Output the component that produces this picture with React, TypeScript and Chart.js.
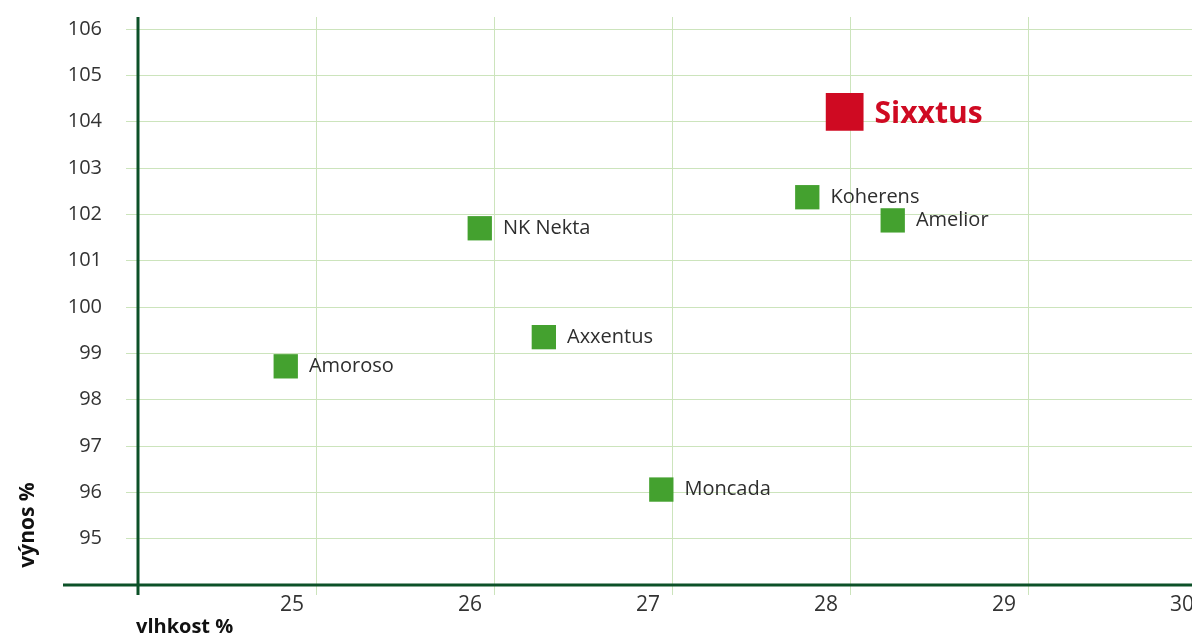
import React, { useEffect, useRef } from "react";
import { Chart, registerables } from "chart.js";

Chart.register(...registerables);

// ---- data ----
const varieties = ["Sixxtus", "Koherens", "Amelior", "NK Nekta", "Axxentus", "Amoroso", "Moncada"];
const moisture = [27.97, 27.76, 28.24, 25.92, 26.28, 24.83, 26.94];
const yieldPct = [104.21, 102.37, 101.87, 101.7, 99.35, 98.72, 96.06];
const highlighted = "Sixxtus";
const xTicks = [25, 26, 27, 28, 29, 30];
const yTicks = [95, 96, 97, 98, 99, 100, 101, 102, 103, 104, 105, 106];
const xTitle = "vlhkost %";
const yTitle = "výnos %";

// ---- style ----
const FONT = "'Open Sans', 'Noto Sans', sans-serif";
const GREEN = "#44a12f";
const RED = "#cf0a22";
const AXIS = "#0c5128";
const GRID = "#cce4bc";
const TEXT = "#2e2e2e";
const R_SMALL = 17.2;
const R_BIG = 26.7;

const W = 1206;
const H = 635;

export default function App() {
  const ref = useRef<HTMLCanvasElement | null>(null);

  useEffect(() => {
    if (!ref.current) return;

    const axisLines = {
      id: "axisLines",
      beforeDatasetsDraw(chart: any) {
        const { ctx, chartArea } = chart;
        ctx.save();
        ctx.strokeStyle = AXIS;
        ctx.lineWidth = 3;
        ctx.beginPath();
        ctx.moveTo(chartArea.left, chartArea.top);
        ctx.lineTo(chartArea.left, chartArea.bottom + 10);
        ctx.moveTo(63, chartArea.bottom);
        ctx.lineTo(chart.width, chartArea.bottom);
        ctx.stroke();
        ctx.restore();
      },
    };

    const pointLabels = {
      id: "pointLabels",
      afterDatasetsDraw(chart: any) {
        const { ctx } = chart;
        const meta = chart.getDatasetMeta(0);
        ctx.save();
        meta.data.forEach((el: any, i: number) => {
          const name = varieties[i];
          const hl = name === highlighted;
          const r = hl ? R_BIG : R_SMALL;
          const half = r * Math.SQRT1_2;
          ctx.font = hl ? `bold 30px ${FONT}` : `20px ${FONT}`;
          ctx.fillStyle = hl ? RED : TEXT;
          ctx.textBaseline = "middle";
          ctx.textAlign = "left";
          ctx.fillText(name, el.x + half + 11, el.y + (hl ? 2 : 0));
        });
        ctx.restore();
      },
    };

    const titles = {
      id: "titles",
      afterDraw(chart: any) {
        const { ctx, chartArea } = chart;
        ctx.save();
        ctx.fillStyle = "#111";
        ctx.font = `bold 20px ${FONT}`;
        ctx.textAlign = "left";
        ctx.textBaseline = "alphabetic";
        ctx.fillText(xTitle, chartArea.left - 2, 633);
        ctx.translate(34, 525);
        ctx.rotate(-Math.PI / 2);
        ctx.font = `bold 21px ${FONT}`;
        ctx.textAlign = "center";
        ctx.fillText(yTitle, 0, 0);
        ctx.restore();
      },
    };

    const chart = new Chart(ref.current, {
      type: "scatter",
      data: {
        datasets: [
          {
            data: moisture.map((x, i) => ({ x, y: yieldPct[i] })),
            pointStyle: "rect",
            pointRadius: varieties.map((n) => (n === highlighted ? R_BIG : R_SMALL)),
            pointHoverRadius: varieties.map((n) => (n === highlighted ? R_BIG : R_SMALL)),
            pointBackgroundColor: varieties.map((n) => (n === highlighted ? RED : GREEN)),
            pointBorderWidth: 0,
            borderWidth: 0,
          },
        ],
      },
      options: {
        responsive: false,
        animation: false,
        events: [],
        clip: false,
        layout: { autoPadding: false, padding: { left: 0, right: 0, top: 17, bottom: 0 } },
        plugins: {
          legend: { display: false },
          tooltip: { enabled: false },
          title: { display: false },
        },
        scales: {
          x: {
            type: "linear",
            min: 24,
            max: 30,
            afterBuildTicks: (s: any) => {
              s.ticks = xTicks.map((v) => ({ value: v }));
            },
            afterFit: (s: any) => {
              s.height = 50;
              s.paddingLeft = 0;
              s.paddingRight = 0;
            },
            border: { display: false },
            grid: { color: GRID, lineWidth: 1, tickLength: 10, drawTicks: true, tickColor: GRID },
            ticks: {
              font: { family: FONT, size: 21 },
              color: "#333",
              padding: -3,
              labelOffset: -24,
              maxRotation: 0,
              autoSkip: false,
            },
          },
          y: {
            type: "linear",
            min: 94,
            max: 106.26,
            afterBuildTicks: (s: any) => {
              s.ticks = yTicks.map((v) => ({ value: v }));
            },
            afterFit: (s: any) => {
              s.width = 138;
              s.paddingTop = 0;
              s.paddingBottom = 0;
            },
            border: { display: false },
            grid: { color: GRID, lineWidth: 1, tickLength: 12, drawTicks: true, tickColor: GRID },
            ticks: {
              font: { family: FONT, size: 20 },
              color: "#333",
              padding: 24,
              autoSkip: false,
            },
          },
        },
      },
      plugins: [axisLines, pointLabels, titles],
    } as any);

    return () => chart.destroy();
  }, []);

  return (
    <div
      style={{
        position: "fixed",
        left: 0,
        top: 0,
        width: 1192,
        height: 635,
        overflow: "hidden",
        background: "#fff",
      }}
    >
      <canvas ref={ref} width={W} height={H} style={{ display: "block", width: W, height: H }} />
    </div>
  );
}
